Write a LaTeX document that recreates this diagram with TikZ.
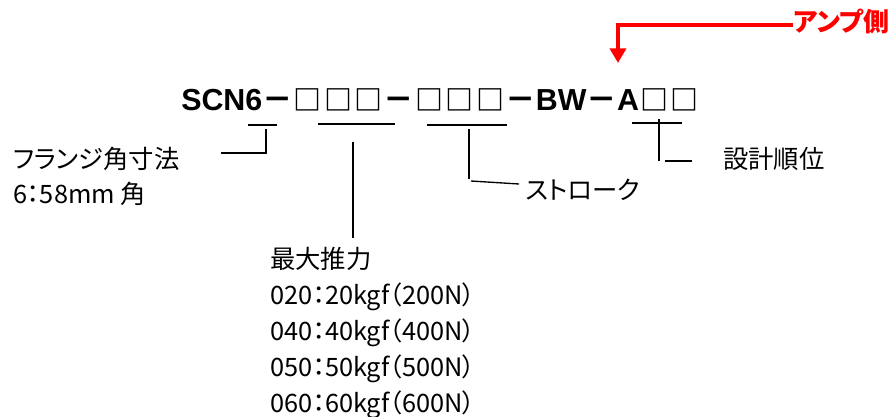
\documentclass[tikz,border=0pt]{standalone}
\usepackage{fontspec}
\setmainfont{Liberation Sans}
\newfontfamily\jp{Noto Sans CJK JP}[RawFeature=+palt]
\usetikzlibrary{arrows.meta, positioning}
\newcommand\codebox{\makebox[22.8pt]{\jp\bfseries\fontsize{21pt}{24pt}\selectfont □}}
\newcommand\codedash{{\jp －}}

\begin{document}
\begin{tikzpicture}[x=0.75pt, y=-0.75pt,
	label/.style={inner sep=0pt, anchor=west, text height=14pt, text depth=4pt, font=\jp\fontsize{19pt}{22pt}\selectfont},
	code/.style={inner sep=0pt, anchor=base west, font=\bfseries\fontsize{22.8pt}{26pt}\selectfont},
	bracket/.style={line width=1pt},
	amparrow/.style={red, line width=3pt, -{Triangle[length=11pt, width=12pt]}}]

	\useasboundingbox (0,0) rectangle (894,417);

	\node (code) [code] at (181,111) {SCN6\codedash\codebox\codebox\codebox\codedash\codebox\codebox\codebox\codedash BW\codedash A\codebox\codebox};

	\node (flange) [label] at (13,162) {フランジ角寸法};
	\node (flangeval) [label] at (13,197) {6：58mm 角};
	\node (stroke) [label] at (525,193) {ストローク};
	\node (rev) [label] at (723,162) {設計順位};
	\node (thrust) [label] at (270,262) {最大推力};
	\node (t020) [label, below=27pt of thrust.west, anchor=west] {020：20kgf（200N）};
	\node (t040) [label, below=27pt of t020.west, anchor=west] {040：40kgf（400N）};
	\node (t050) [label, below=27pt of t040.west, anchor=west] {050：50kgf（500N）};
	\node (t060) [label, below=27pt of t050.west, anchor=west] {060：60kgf（600N）};

	\node (amp) [label, red, font=\jp\bfseries\fontsize{19.5pt}{22pt}\selectfont] at (793,25) {アンプ側};
	\coordinate (amptip) at (618,63);
	\draw [amparrow] (amp.west) -| (amptip);

	% underlines and leaders
	\coordinate (u6a) at (248,125);   \coordinate (u6b) at (277,125);
	\coordinate (l6a) at (266,129);   \coordinate (l6b) at (221,153);
	\coordinate (uta) at (318,124);   \coordinate (utb) at (395,124);
	\coordinate (lta) at (353,142);   \coordinate (ltb) at (353,238);
	\coordinate (usa) at (427,125);   \coordinate (usb) at (507,125);
	\coordinate (lsa) at (469,129);   \coordinate (lsb) at (469,179);
	\coordinate (lsc) at (471,181);   \coordinate (lsd) at (519,184);
	\coordinate (ura) at (632,123);   \coordinate (urb) at (682,123);
	\coordinate (lra) at (659,119);   \coordinate (lrb) at (659,161);
	\coordinate (lrc) at (665,161);   \coordinate (lrd) at (692,161);

	\draw [bracket] (u6a) -- (u6b);
	\draw [bracket] (l6a) |- (l6b);
	\draw [bracket] (uta) -- (utb);
	\draw [bracket] (lta) -- (ltb);
	\draw [bracket] (usa) -- (usb);
	\draw [bracket] (lsa) -- (lsb);
	\draw [bracket] (lsc) -- (lsd);
	\draw [bracket] (ura) -- (urb);
	\draw [bracket] (lra) -- (lrb);
	\draw [bracket] (lrc) -- (lrd);

\end{tikzpicture}
\end{document}
